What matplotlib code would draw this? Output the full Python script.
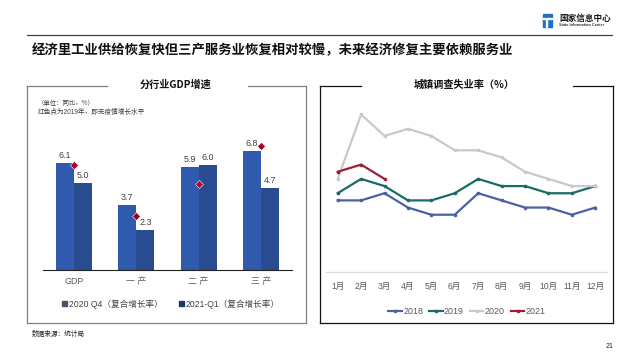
import matplotlib
matplotlib.use('Agg')
import matplotlib.pyplot as plt
from matplotlib.lines import Line2D
from matplotlib.patches import Patch, Rectangle

plt.rcParams['font.family'] = ['Liberation Sans', 'Noto Sans CJK SC', 'DejaVu Sans']
CJK = ['Noto Sans CJK SC', 'DejaVu Sans']

# ---- data: GDP growth by industry
industries = ['GDP', '一 产', '二 产', '三 产']
q4_2020 = [6.1, 3.7, 5.9, 6.8]
q1_2021 = [5.0, 2.3, 6.0, 4.7]
y2019 = [6.0, 3.1, 4.9, 7.1]

# ---- data: urban surveyed unemployment rate
months = ['1月', '2月', '3月', '4月', '5月', '6月', '7月', '8月', '9月', '10月', '11月', '12月']
u2018 = [5.0, 5.0, 5.1, 4.9, 4.8, 4.8, 5.1, 5.0, 4.9, 4.9, 4.8, 4.9]
u2019 = [5.1, 5.3, 5.2, 5.0, 5.0, 5.1, 5.3, 5.2, 5.2, 5.1, 5.1, 5.2]
u2020 = [5.3, 6.2, 5.9, 6.0, 5.9, 5.7, 5.7, 5.6, 5.4, 5.3, 5.2, 5.2]
u2021 = [5.4, 5.5, 5.3]

W, H = 640, 360
fig = plt.figure(figsize=(6.4, 3.6), dpi=100)

def fx(x):
    return x / W

def fy(y):
    return 1 - y / H

def hline(x0, x1, y, color, lw):
    fig.add_artist(Line2D([fx(x0), fx(x1)], [fy(y), fy(y)], color=color, lw=lw))

def vline(x, y0, y1, color, lw):
    fig.add_artist(Line2D([fx(x), fx(x)], [fy(y0), fy(y1)], color=color, lw=lw))

# header
hline(27, 612, 35, '#404040', 0.9)
fig.text(fx(32), fy(50), '经济里工业供给恢复快但三产服务业恢复相对较慢，未来经济修复主要依赖服务业',
         family=CJK, fontsize=9.6, fontweight='bold', va='center', ha='left', color='#111111')

# logo
fig.add_artist(Rectangle((fx(543), fy(27)), fx(9), 13 / H, color='#1F6FC5'))
fig.add_artist(Rectangle((fx(543), fy(19)), fx(9), 1.2 / H, color='white'))
fig.add_artist(Rectangle((fx(546), fy(27)), fx(1.2), 8 / H, color='white'))
fig.text(fx(559), fy(18), '国家信息中心', family=CJK, fontsize=6.2, fontweight='bold',
         va='center', ha='left', color='#1a1a1a')
fig.text(fx(559), fy(25.5), 'State Information Center', fontsize=2.8, fontweight='bold',
         va='center', ha='left', color='#333333')

# panel boxes
box_l = '#808080'
hline(27, 107, 86, box_l, 0.9)
hline(248, 306, 86, box_l, 0.9)
hline(27, 306, 323, box_l, 0.9)
vline(27, 86, 323, box_l, 0.9)
vline(306, 86, 323, box_l, 0.9)
fig.text(fx(176), fy(85), '分行业GDP增速', family=CJK, fontsize=7.3, fontweight='bold',
         ha='center', va='center', color='#111111')

box_r = '#111111'
hline(320, 361, 86, box_r, 0.9)
hline(573, 613, 86, box_r, 0.9)
hline(320, 613, 323, box_r, 0.9)
vline(320, 86, 323, box_r, 0.9)
vline(613, 86, 323, box_r, 0.9)
fig.text(fx(464), fy(85), '城镇调查失业率（%）', family=CJK, fontsize=7.3, fontweight='bold',
         ha='center', va='center', color='#111111')

# ---- left: bar chart
c1, c2 = '#2F5AAE', '#294C90'
ax1 = fig.add_axes([fx(43), fy(270), fx(292 - 43), 157.5 / H])
xs = list(range(len(industries)))
bw = 0.29
b1 = ax1.bar([x - bw / 2 for x in xs], q4_2020, width=bw, color=c1)
b2 = ax1.bar([x + bw / 2 for x in xs], q1_2021, width=bw, color=c2)
for bars, vals in ((b1, q4_2020), (b2, q1_2021)):
    for b, v in zip(bars, vals):
        ax1.annotate(f'{v:.1f}', (b.get_x() + b.get_width() / 2, v), xytext=(0, 2),
                     textcoords='offset points', ha='center', va='bottom',
                     fontsize=6.4, color='#404040')
ax1.plot(xs, y2019, ls='none', marker='D', ms=3.8, color='#A50021', mec='white', mew=0.4)
ax1.set_xlim(-0.5, 3.5)
ax1.set_ylim(0, 9)
ax1.set_xticks(xs)
ax1.set_xticklabels(industries, family=['Liberation Sans', 'Noto Sans CJK SC'])
ax1.tick_params(axis='x', length=0, pad=5, labelsize=6.4, labelcolor='#595959')
ax1.set_yticks([])
for s in ('top', 'right', 'left'):
    ax1.spines[s].set_visible(False)
ax1.spines['bottom'].set_color('#222222')
ax1.spines['bottom'].set_linewidth(0.8)
ax1.patch.set_alpha(0)

fig.text(fx(38), fy(103), '（单位：同比，%）', family=CJK, fontsize=4.6, va='center', color='#404040')
fig.text(fx(38), fy(112), '红色点为2019年，即无疫情增长水平', family=['Liberation Sans', 'Noto Sans CJK SC'],
         fontsize=4.8, va='center', color='#404040')

fig.legend(handles=[Patch(color='#44546A', label='2020 Q4（复合增长率）'),
                    Patch(color='#1F3864', label='2021-Q1（复合增长率）')],
           loc='center', bbox_to_anchor=(fx(171), fy(304)), ncol=2, frameon=False,
           fontsize=6.2, handlelength=0.55, handleheight=0.55, handletextpad=0.15,
           columnspacing=2.0, labelcolor='#404040')

# ---- right: unemployment lines
ax2 = fig.add_axes([fx(326), fy(272), fx(281), 179 / H])
mx = list(range(len(months)))
series = [('2018', u2018, '#4A62A4'), ('2019', u2019, '#1A6A66'),
          ('2020', u2020, '#C9C9C9'), ('2021', u2021, '#9B1F3A')]
handles = []
for name, vals, col in series:
    ax2.plot(mx[:len(vals)], vals, color=col, lw=1.6, marker='o', ms=1.6)
    handles.append(Line2D([], [], color=col, lw=1.6, marker='o', ms=1.6, label=name))
ax2.set_xlim(-0.5, 11.5)
ax2.set_ylim(4.0, 6.5)
ax2.set_xticks(mx)
ax2.set_xticklabels(months, family=['Liberation Sans', 'Noto Sans CJK SC'])
ax2.tick_params(axis='x', length=0, pad=7, labelsize=6.2, labelcolor='#595959')
ax2.set_yticks([])
for s in ('top', 'right', 'left'):
    ax2.spines[s].set_visible(False)
ax2.spines['bottom'].set_color('#D9D9D9')
ax2.spines['bottom'].set_linewidth(0.9)
ax2.patch.set_alpha(0)

fig.legend(handles=handles, loc='center', bbox_to_anchor=(fx(467), fy(312)), ncol=4,
           frameon=False, fontsize=6.4, handlelength=1.5, handletextpad=0.15,
           columnspacing=0.7, numpoints=1, labelcolor='#595959')

# footer
fig.text(fx(32), fy(334), '数据来源：统计局', family=CJK, fontsize=4.8, va='center', color='#222222')
fig.text(fx(613), fy(347), '21', fontsize=5, va='center', ha='right', color='#222222')

fig.savefig('out.png', dpi=100)
